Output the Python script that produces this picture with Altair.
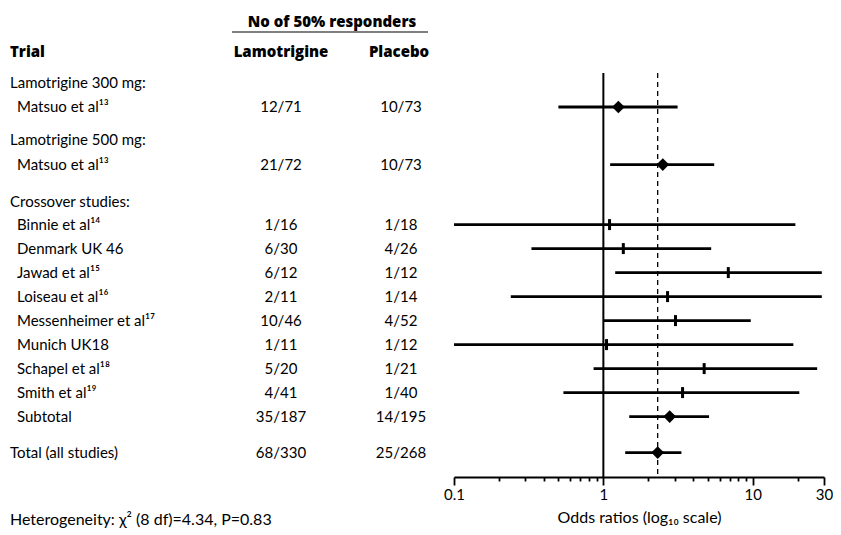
import altair as alt
import pandas as pd

# ---- table data ----
labels = ["Lamotrigine 300 mg:", "Matsuo et al¹³", "Lamotrigine 500 mg:", "Matsuo et al¹³",
          "Crossover studies:", "Binnie et al¹⁴", "Denmark UK 46", "Jawad et al¹⁵",
          "Loiseau et al¹⁶", "Messenheimer et al¹⁷", "Munich UK18", "Schapel et al¹⁸",
          "Smith et al¹⁹", "Subtotal", "Total (all studies)"]
rows = [0, 1, 2.375, 3.4, 4.95, 5.9, 6.9, 7.9, 8.9, 9.9, 10.9, 11.9, 12.9, 13.9, 15.4]
indented = [False, True, False, True, False, True, True, True, True, True, True, True, True, True, False]
lamotrigine = ["", "12/71", "", "21/72", "", "1/16", "6/30", "6/12", "2/11", "10/46",
               "1/11", "5/20", "4/41", "35/187", "68/330"]
placebo = ["", "10/73", "", "10/73", "", "1/18", "4/26", "1/12", "1/14", "4/52",
           "1/12", "1/21", "1/40", "14/195", "25/268"]

# ---- forest data ----
f_rows = [1, 3.4, 5.9, 6.9, 7.9, 8.9, 9.9, 10.9, 11.9, 12.9, 13.9, 15.4]
f_or = [1.26, 2.50, 1.10, 1.36, 6.86, 2.69, 3.04, 1.05, 4.73, 3.39, 2.78, 2.31]
f_lo = [0.50, 1.11, 0.10, 0.33, 1.20, 0.24, 1.00, 0.10, 0.86, 0.54, 1.49, 1.40]
f_hi = [3.14, 5.52, 19.3, 5.27, 29.0, 29.0, 9.7, 18.7, 27.0, 20.5, 5.1, 3.33]
f_kind = ["pooled", "pooled", "study", "study", "study", "study", "study", "study",
          "study", "study", "pooled", "pooled"]
pooled_or = 2.31

major_ticks = [0.1, 1, 10, 30]
tick_values = [0.1, 0.2, 0.3, 0.4, 0.5, 0.6, 0.7, 0.8, 0.9, 1, 2, 3, 4, 5, 6, 7, 8, 9, 10, 20, 30]

FONT = "Lato"
BOLD_FONT = "Open Sans"
W, H = 816, 469

table = pd.DataFrame({"label": labels, "row": rows, "indent": indented,
                      "lam": lamotrigine, "plc": placebo})
forest = pd.DataFrame({"row": f_rows, "or": f_or, "lo": f_lo, "hi": f_hi, "kind": f_kind})
headers = pd.DataFrame({"row": [-1.3], "trial": ["Trial"], "lam": ["Lamotrigine"],
                        "plc": ["Placebo"]})
top_header = pd.DataFrame({"row": [-2.55], "text": ["No of 50% responders"]})
foot = pd.DataFrame({"row": [18.2], "text": ["Heterogeneity: χ² (8 df)=4.34, P=0.83"]})
refs = pd.DataFrame({"x": [1, pooled_or], "row": [-0.42, -0.42], "dash": ["solid", "dash"]})

yscale = alt.Scale(domain=[-3.125, 16.417], reverse=True, nice=False, zero=False)
xscale = alt.Scale(type="log", domain=[0.1, 30], range=[446, 816], nice=False)
Y = alt.Y("row:Q", scale=yscale, axis=None)

test = "indexof([0.1,1,10,30], datum.value) >= 0"
xaxis = alt.Axis(values=tick_values, labelExpr=f"{test} ? format(datum.value, '~g') : ''",
                 labelOverlap=False, labelFlush=False, grid=False,
                 tickSize={"condition": {"test": test, "value": 8}, "value": 4},
                 title="Odds ratios (log₁₀ scale)", titlePadding=7)

base_text = dict(font=FONT, fontSize=15, color="black", baseline="middle")
bold_text = dict(font=BOLD_FONT, fontSize=15, fontWeight=800, color="black", baseline="middle")

lab_head = alt.Chart(table[~table.indent]).mark_text(align="left", **base_text).encode(
    x=alt.value(2), y=Y, text="label:N")
lab_study = alt.Chart(table[table.indent]).mark_text(align="left", **base_text).encode(
    x=alt.value(9), y=Y, text="label:N")
lam_col = alt.Chart(table).mark_text(align="center", **base_text).encode(
    x=alt.value(273), y=Y, text="lam:N")
plc_col = alt.Chart(table).mark_text(align="center", **base_text).encode(
    x=alt.value(393), y=Y, text="plc:N")

h_trial = alt.Chart(headers).mark_text(align="left", **bold_text).encode(
    x=alt.value(2), y=Y, text="trial:N")
h_lam = alt.Chart(headers).mark_text(align="center", **bold_text).encode(
    x=alt.value(273), y=Y, text="lam:N")
h_plc = alt.Chart(headers).mark_text(align="center", **bold_text).encode(
    x=alt.value(391), y=Y, text="plc:N")
h_top = alt.Chart(top_header).mark_text(align="center", **bold_text).encode(
    x=alt.value(324), y=Y, text="text:N")
underline = alt.Chart(top_header).mark_rule(color="black", strokeWidth=1.2).encode(
    x=alt.value(224), x2=alt.value(420), y=alt.value(24))
footer = alt.Chart(foot).mark_text(align="left", **dict(base_text, fontSize=16)).encode(
    x=alt.value(2), y=Y, text="text:N")

solid = alt.Chart(refs[refs.dash == "solid"]).mark_rule(color="black", strokeWidth=2).encode(
    x=alt.X("x:Q", scale=xscale, axis=xaxis), y=Y, y2=alt.value(H))
dashed = alt.Chart(refs[refs.dash == "dash"]).mark_rule(color="black", strokeWidth=1.3,
                                                         strokeDash=[5, 4]).encode(
    x=alt.X("x:Q", scale=xscale, axis=xaxis), y=Y, y2=alt.value(H))

ci = alt.Chart(forest).mark_rule(color="black", strokeWidth=2.8).encode(
    x=alt.X("lo:Q", scale=xscale, axis=xaxis), x2="hi:Q", y=Y)
diamonds = alt.Chart(forest[forest.kind == "pooled"]).mark_point(
    shape="diamond", filled=True, color="black", size=160, opacity=1).encode(
    x=alt.X("or:Q", scale=xscale, axis=xaxis), y=Y)
ticks = alt.Chart(forest[forest.kind == "study"]).mark_tick(
    orient="vertical", color="black", thickness=3, size=11, opacity=1).encode(
    x=alt.X("or:Q", scale=xscale, axis=xaxis), y=Y)

chart = alt.layer(lab_head, lab_study, lam_col, plc_col, h_trial, h_lam, h_plc, h_top,
                  underline, footer, solid, dashed, ci, diamonds, ticks).properties(
    width=W, height=H, padding=0
).configure_view(stroke=None).configure_axis(
    labelFont=FONT, labelFontSize=15, labelColor="black", titleFont=FONT, titleFontSize=16,
    titleFontWeight="normal", titleColor="black", domainColor="black", domainWidth=1.8,
    tickColor="black", tickWidth=1.8, labelPadding=2
)

chart.save("out.html", embed_options={"renderer": "svg", "actions": False})
